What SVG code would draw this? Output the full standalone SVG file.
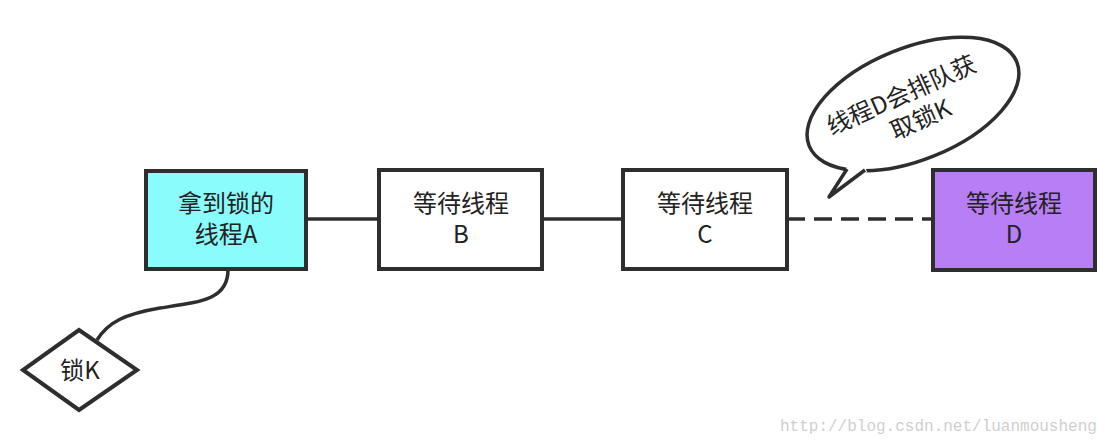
<svg xmlns="http://www.w3.org/2000/svg" width="1120" height="446" viewBox="0 0 1120 446">
<style>
.box{stroke:#2e2e2e;stroke-width:4;}
.t{font-family:"Noto Sans CJK SC","Noto Sans",sans-serif;font-size:24px;fill:#222;text-anchor:middle;}
.ln{stroke:#2e2e2e;stroke-width:3.5;fill:none;}
</style>
<rect width="1120" height="446" fill="#fff"/>
<g id="connectors">
<line class="ln" x1="306" y1="219" x2="379" y2="219"/>
<line class="ln" x1="542" y1="219" x2="623" y2="219"/>
<line class="ln" x1="787" y1="219" x2="933" y2="219" stroke-dasharray="18 9"/>
<path class="ln" d="M228,270 C228,300 200,302 160,308 C125,314 108,322 97,340"/>
</g>
<g id="nodeA">
<rect class="box" x="146" y="171" width="160" height="98" fill="#8afcfc"/>
<text class="t" x="226" y="212">拿到锁的<tspan x="226" dy="31">线程A</tspan></text>
</g>
<g id="nodeB">
<rect class="box" x="379" y="170" width="163" height="99" fill="#fff"/>
<text class="t" x="461" y="212">等待线程<tspan x="461" dy="31">B</tspan></text>
</g>
<g id="nodeC">
<rect class="box" x="623" y="170" width="164" height="99" fill="#fff"/>
<text class="t" x="705" y="212">等待线程<tspan x="705" dy="31">C</tspan></text>
</g>
<g id="nodeD">
<rect class="box" x="933" y="170" width="162" height="100" fill="#b87ef6"/>
<text class="t" x="1014" y="212">等待线程<tspan x="1014" dy="31">D</tspan></text>
</g>
<g id="lockK">
<polygon class="box" points="79,330 137,370 79,410 23,370" fill="#fff"/>
<text class="t" x="80" y="379">锁K</text>
</g>
<g id="bubble">
<ellipse cx="913" cy="104" rx="112" ry="56" transform="rotate(-22 913 104)" fill="#fff" stroke="#2e2e2e" stroke-width="3.5"/>
<polygon points="845,171 829,197 867,172 864,163 849,163" fill="#fff"/>
<polyline points="847,169 829,197 865,170" fill="none" stroke="#2e2e2e" stroke-width="3.5" stroke-linejoin="round"/>
<text class="t" transform="rotate(-24 910 105)" x="906" y="101">线程D会排队获<tspan x="914" dy="30">取锁K</tspan></text>
</g>
<text x="780" y="431" font-family="Liberation Mono,monospace" font-size="16" fill="#cfcfcf">http://blog.csdn.net/luanmousheng</text>
</svg>
